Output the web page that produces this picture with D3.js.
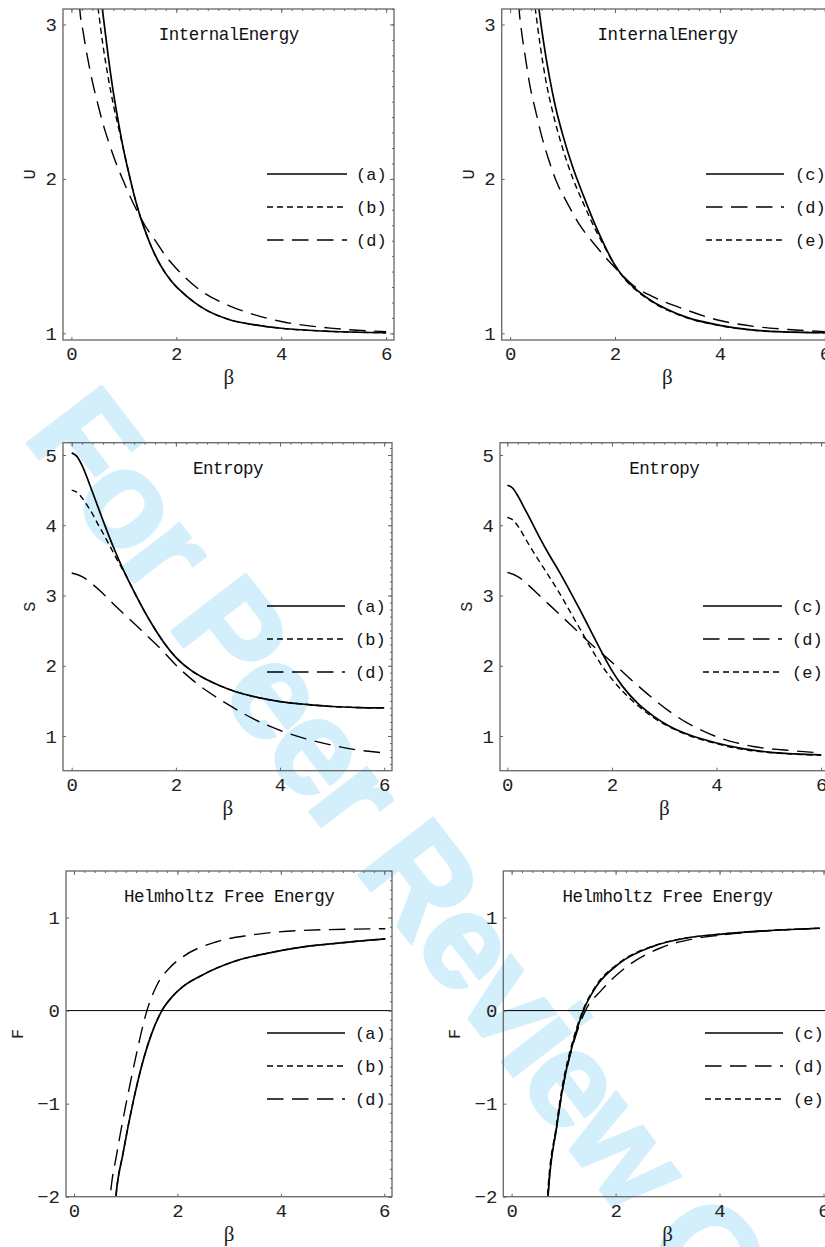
<!DOCTYPE html>
<html><head><meta charset="utf-8">
<script src="https://cdn.jsdelivr.net/npm/d3@7"></script>
<style>body{margin:0;background:#fff}svg{display:block}</style>
</head><body>
<svg id="chart" width="825" height="1247"></svg>
<script>
// ---------- DATA ----------
const xTicks = [0, 2, 4, 6];
const uTicks = [1, 2, 3];
const sTicks = [1, 2, 3, 4, 5];
const fTicks = [-2, -1, 0, 1];

// Internal energy U(beta), left panel
const U_a = [[0.52,3.30],[0.59,3.10],[0.70,2.80],[0.80,2.56],[0.90,2.36],[1.0,2.18],[1.1,2.03],[1.2,1.89],[1.3,1.77],[1.4,1.67],[1.5,1.58],[1.7,1.44],[1.9,1.34],[2.2,1.24],[2.5,1.165],[3.0,1.09],[3.5,1.055],[4.0,1.033],[5.0,1.012],[6.0,1.004]];
const U_b = [[0.43,3.30],[0.51,3.10],[0.60,2.87],[0.70,2.66],[0.80,2.48],[0.90,2.33],[1.0,2.18],[1.1,2.03],[1.2,1.89],[1.3,1.77],[1.4,1.67],[1.5,1.58],[1.7,1.44],[1.9,1.34],[2.2,1.24],[2.5,1.165],[3.0,1.09],[3.5,1.055],[4.0,1.033],[5.0,1.012],[6.0,1.004]];
const U_dL = [[0.13,3.30],[0.16,3.10],[0.22,2.96],[0.30,2.80],[0.40,2.63],[0.50,2.49],[0.60,2.36],[0.70,2.25],[0.80,2.15],[0.90,2.06],[1.0,1.98],[1.1,1.90],[1.24,1.80],[1.4,1.70],[1.6,1.60],[1.8,1.50],[2.0,1.42],[2.45,1.28],[3.0,1.18],[3.5,1.12],[4.0,1.077],[5.0,1.032],[6.0,1.011]];
// Internal energy U(beta), right panel
const U_c = [[0.48,3.30],[0.55,3.10],[0.65,2.86],[0.75,2.66],[0.85,2.49],[1.0,2.29],[1.2,2.07],[1.4,1.89],[1.6,1.72],[1.8,1.57],[2.0,1.44],[2.2,1.35],[2.4,1.285],[2.7,1.21],[3.0,1.155],[3.4,1.10],[4.0,1.052],[4.6,1.022],[5.2,1.010],[6.0,1.004]];
const U_dR = [[0.127,3.30],[0.17,3.10],[0.22,2.95],[0.29,2.79],[0.38,2.60],[0.48,2.45],[0.60,2.28],[0.73,2.13],[0.90,1.97],[1.08,1.85],[1.33,1.70],[1.6,1.58],[1.85,1.48],[2.03,1.415],[2.35,1.31],[2.74,1.235],[3.37,1.15],[4.0,1.083],[4.64,1.045],[5.3,1.025],[6.0,1.011]];
const U_e = [[0.40,3.30],[0.48,3.10],[0.58,2.85],[0.68,2.64],[0.80,2.45],[1.0,2.20],[1.2,2.00],[1.4,1.84],[1.6,1.69],[1.8,1.56],[2.0,1.44],[2.2,1.345],[2.4,1.28],[2.7,1.205],[3.0,1.15],[3.4,1.097],[4.0,1.05],[4.6,1.021],[5.2,1.010],[6.0,1.004]];

// Entropy S(beta), left panel
const S_a = [[0,5.03],[0.1,4.98],[0.2,4.85],[0.4,4.47],[0.6,4.07],[0.8,3.69],[1.0,3.35],[1.2,3.05],[1.4,2.77],[1.6,2.52],[1.8,2.30],[2.0,2.12],[2.3,1.93],[2.6,1.80],[3.0,1.67],[3.5,1.56],[4.0,1.49],[4.5,1.45],[5.0,1.42],[5.5,1.405],[6.0,1.40]];
const S_b = [[0,4.50],[0.1,4.47],[0.2,4.39],[0.3,4.28],[0.4,4.16],[0.5,4.02],[0.6,3.89],[0.7,3.75],[0.8,3.61],[0.9,3.47],[0.97,3.38],[1.05,3.275],[1.2,3.05],[1.4,2.77],[1.6,2.52],[1.8,2.30],[2.0,2.12],[2.3,1.93],[2.6,1.80],[3.0,1.67],[3.5,1.56],[4.0,1.49],[4.5,1.45],[5.0,1.42],[5.5,1.405],[6.0,1.40]];
const S_dL = [[0,3.32],[0.2,3.27],[0.4,3.16],[0.6,3.03],[0.8,2.88],[1.0,2.74],[1.2,2.60],[1.4,2.46],[1.6,2.32],[1.8,2.17],[2.0,2.01],[2.3,1.81],[2.6,1.64],[3.0,1.45],[3.5,1.24],[4.0,1.08],[4.5,0.96],[5.0,0.87],[5.5,0.80],[6.0,0.76]];
// Entropy S(beta), right panel
const S_c = [[0,4.57],[0.1,4.53],[0.2,4.42],[0.3,4.28],[0.4,4.14],[0.6,3.85],[0.8,3.58],[1.0,3.33],[1.2,3.06],[1.4,2.78],[1.6,2.49],[1.8,2.20],[2.0,1.93],[2.2,1.71],[2.5,1.46],[2.8,1.28],[3.1,1.14],[3.5,1.01],[4.0,0.90],[4.5,0.82],[5.0,0.77],[5.5,0.745],[6.0,0.73]];
const S_dR = [[0,3.33],[0.2,3.27],[0.4,3.15],[0.6,3.01],[0.8,2.87],[1.0,2.73],[1.2,2.59],[1.4,2.45],[1.6,2.31],[1.77,2.20],[2.0,2.05],[2.15,1.95],[2.4,1.78],[2.79,1.53],[3.1,1.35],[3.43,1.19],[3.75,1.07],[4.07,0.97],[4.4,0.90],[4.7,0.85],[5.3,0.80],[6.0,0.76]];
const S_e = [[0,4.11],[0.1,4.08],[0.2,3.99],[0.3,3.87],[0.4,3.74],[0.6,3.50],[0.8,3.27],[1.0,3.03],[1.2,2.77],[1.4,2.51],[1.6,2.25],[1.8,2.01],[2.0,1.81],[2.2,1.64],[2.5,1.43],[2.8,1.26],[3.1,1.13],[3.5,1.00],[4.0,0.89],[4.5,0.81],[5.0,0.765],[5.5,0.74],[6.0,0.725]];

// Helmholtz free energy F(beta), left panel
const F_a = [[0.78,-2.2],[0.81,-2.0],[0.95,-1.53],[1.15,-0.965],[1.34,-0.53],[1.50,-0.25],[1.70,0.0],[1.90,0.15],[2.10,0.255],[2.44,0.37],[3.08,0.525],[3.73,0.615],[4.37,0.68],[5.02,0.72],[6.02,0.77]];
const F_b = [[0.78,-2.2],[0.81,-2.0],[0.95,-1.53],[1.15,-0.965],[1.34,-0.53],[1.50,-0.25],[1.70,0.0],[1.90,0.15],[2.10,0.255],[2.44,0.37],[3.08,0.525],[3.73,0.615],[4.37,0.68],[5.02,0.72],[6.02,0.77]];
const F_dL = [[0.67,-2.2],[0.70,-2.0],[0.83,-1.53],[1.02,-0.965],[1.21,-0.46],[1.41,0.0],[1.60,0.27],[1.85,0.46],[2.11,0.58],[2.76,0.74],[3.40,0.81],[4.37,0.86],[6.02,0.88]];
// Helmholtz free energy F(beta), right panel
const F_c = [[0.68,-2.2],[0.70,-2.0],[0.87,-1.24],[0.99,-0.81],[1.18,-0.35],[1.38,0.0],[1.63,0.26],[2.08,0.51],[2.72,0.69],[3.36,0.78],[4.0,0.82],[4.97,0.86],[5.93,0.885]];
const F_dR = [[0.68,-2.2],[0.70,-2.0],[0.87,-1.24],[0.99,-0.82],[1.18,-0.37],[1.42,0.0],[1.73,0.22],[2.21,0.47],[2.85,0.67],[3.49,0.77],[4.0,0.81],[4.97,0.86],[5.93,0.885]];
const F_e = [[0.67,-2.2],[0.69,-2.0],[0.86,-1.24],[0.98,-0.80],[1.17,-0.34],[1.37,0.0],[1.62,0.265],[2.06,0.51],[2.72,0.695],[3.36,0.78],[4.0,0.82],[4.97,0.86],[5.93,0.885]];

const titles = ["InternalEnergy", "Entropy", "Helmholtz Free Energy"];
const yLabels = ["U", "S", "F"];
const xLabel = "β";
const watermarkText = "For Peer Review Only";

// ---------- STYLES ----------
const styles = {
  solid: {w: 1.7, dash: null},
  short: {w: 1.4, dash: "6,4"},
  long:  {w: 1.4, dash: "16.5,8.5"}
};

// ---------- LAYOUT ----------
const panels = [
  {L:63,   T:9,     W:331, H:331, xd:[-0.16,6.15], yd:[0.957,3.1],  yt:uTicks, title:0, series:[["(a)",U_a,"solid"],["(b)",U_b,"short"],["(d)",U_dL,"long"]], leg:{x1:267,x2:347,tx:356,y:[174,207,240]}},
  {L:501.7,T:9,     W:331, H:331, xd:[-0.16,6.15], yd:[0.957,3.1],  yt:uTicks, title:0, series:[["(c)",U_c,"solid"],["(d)",U_dR,"long"],["(e)",U_e,"short"]], leg:{x1:706,x2:784,tx:795,y:[174,207,240]}},
  {L:63,   T:442.7, W:329, H:328, xd:[-0.167,6.15], yd:[0.506,5.175], yt:sTicks, title:1, series:[["(a)",S_a,"solid"],["(b)",S_b,"short"],["(d)",S_dL,"long"]], leg:{x1:267,x2:345,tx:355,y:[606,639,672]}},
  {L:500,  T:442.7, W:329, H:328, xd:[-0.14,6.15], yd:[0.506,5.175], yt:sTicks, title:1, series:[["(c)",S_c,"solid"],["(d)",S_dR,"long"],["(e)",S_e,"short"]], leg:{x1:703,x2:782,tx:792,y:[606,639,672]}},
  {L:66,   T:871,   W:326, H:325.7, xd:[-0.155,6.15], yd:[-2,1.5], yt:fTicks, title:2, zero:true, series:[["(a)",F_a,"solid"],["(b)",F_b,"short"],["(d)",F_dL,"long"]], leg:{x1:267,x2:345,tx:355,y:[1033,1066,1099]}},
  {L:503.3,T:871,   W:328, H:325.7, xd:[-0.16,6.15], yd:[-2,1.5], yt:fTicks, title:2, zero:true, series:[["(c)",F_c,"solid"],["(d)",F_dR,"long"],["(e)",F_e,"short"]], leg:{x1:705,x2:783,tx:793,y:[1033,1066,1099]}}
];

const svg = d3.select("#chart");
svg.append("rect").attr("width",825).attr("height",1247).attr("fill","#fff");

// watermark (behind everything)
svg.append("text")
  .attr("transform","translate(22,436) rotate(52.5)")
  .attr("font-family","'Liberation Sans', Arial, sans-serif")
  .attr("font-weight","bold")
  .attr("font-size",136)
  .attr("letter-spacing",-5)
  .attr("fill","#d2effb")
  .attr("stroke","#d2effb").attr("stroke-width",3).attr("stroke-linejoin","round")
  .text(watermarkText);

const mono = "'Liberation Mono', 'Courier New', monospace";
const frameColor = "#666";

function range(a,b,s){const r=[];for(let v=a;v<=b+1e-9;v+=s)r.push(+v.toFixed(4));return r;}

panels.forEach((p,i) => {
  const x = d3.scaleLinear().domain(p.xd).range([p.L, p.L+p.W]);
  const y = d3.scaleLinear().domain(p.yd).range([p.T+p.H, p.T]);
  const g = svg.append("g");

  const clipId = "clip"+i;
  svg.append("clipPath").attr("id",clipId).append("rect")
    .attr("x",p.L).attr("y",p.T).attr("width",p.W).attr("height",p.H);

  if (p.zero) {
    g.append("line").attr("x1",p.L).attr("x2",p.L+p.W).attr("y1",y(0)).attr("y2",y(0))
      .attr("stroke","#000").attr("stroke-width",1);
  }

  // curves
  const line = d3.line().x(d=>x(d[0])).y(d=>y(d[1])).curve(d3.curveMonotoneX);
  const cg = g.append("g").attr("clip-path",`url(#${clipId})`);
  p.series.forEach(([lab,data,st]) => {
    const s = styles[st];
    cg.append("path").attr("d",line(data)).attr("fill","none")
      .attr("stroke","#000").attr("stroke-width",s.w)
      .attr("stroke-dasharray",s.dash);
  });

  // axes
  const xMinor = range(0,6,0.2);
  const yMinor = range(Math.ceil(p.yd[0]*10)/10, p.yd[1], 0.1);
  const bottom = d3.axisBottom(x).tickValues(xTicks).tickSize(-3).tickPadding(7).tickFormat(d3.format("d"));
  const left = d3.axisLeft(y).tickValues(p.yt).tickSize(-3).tickPadding(6).tickFormat(d=> d<0 ? "\u2212"+(-d) : d);
  const top = d3.axisTop(x).tickValues(xMinor).tickSize(-2).tickFormat("");
  const topMaj = d3.axisTop(x).tickValues(xTicks).tickSize(-4).tickFormat("");
  const right = d3.axisRight(y).tickValues(yMinor).tickSize(-2).tickFormat("");
  const rightMaj = d3.axisRight(y).tickValues(p.yt).tickSize(-4).tickFormat("");

  const axes = [
    [bottom, `translate(0,${p.T+p.H})`],
    [left, `translate(${p.L},0)`],
    [top, `translate(0,${p.T})`],
    [topMaj, `translate(0,${p.T})`],
    [right, `translate(${p.L+p.W},0)`],
    [rightMaj, `translate(${p.L+p.W},0)`]
  ];
  axes.forEach(([ax,tr]) => {
    const a = g.append("g").attr("transform",tr).call(ax);
    a.select(".domain").remove();
    a.selectAll("line").attr("stroke",frameColor).attr("stroke-width",1);
    a.selectAll("text").attr("font-family",mono).attr("font-size",19).attr("fill","#222");
  });

  // frame
  g.append("rect").attr("x",p.L).attr("y",p.T).attr("width",p.W).attr("height",p.H)
    .attr("fill","none").attr("stroke",frameColor).attr("stroke-width",1.3);

  // title (centred at beta = 3)
  g.append("text").attr("x",x(3)).attr("y",p.T + 31)
    .attr("text-anchor","middle").attr("font-family",mono).attr("font-size",17.5)
    .attr("letter-spacing",-0.5).attr("fill","#111").text(titles[p.title]);

  // axis labels
  g.append("text").attr("x",x(3)).attr("y",p.T+p.H+44)
    .attr("text-anchor","middle").attr("font-family","'Liberation Serif', 'Times New Roman', serif")
    .attr("font-size",21).attr("fill","#222").text(xLabel);
  const ylx = p.title===2 ? p.L-49 : p.L-34;
  g.append("text").attr("transform",`translate(${ylx},${p.T+p.H/2}) rotate(-90)`)
    .attr("text-anchor","middle").attr("dy","0.35em").attr("font-family",mono)
    .attr("font-size",17).attr("fill","#222").text(yLabels[p.title]);

  // legend
  p.series.forEach(([lab,data,st],k) => {
    const s = styles[st];
    const ly = p.leg.y[k];
    g.append("line").attr("x1",p.leg.x1).attr("x2",p.leg.x2).attr("y1",ly).attr("y2",ly)
      .attr("stroke","#000").attr("stroke-width",s.w).attr("stroke-dasharray",s.dash);
    g.append("text").attr("x",p.leg.tx).attr("y",ly).attr("dy","0.35em")
      .attr("font-family",mono).attr("font-size",17).attr("fill","#111").text(lab);
  });
});
</script>
</body></html>
